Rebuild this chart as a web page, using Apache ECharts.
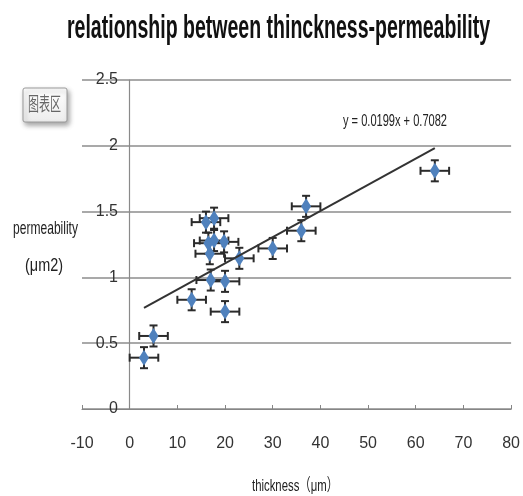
<!DOCTYPE html>
<html>
<head>
<meta charset="utf-8">
<script src="https://cdn.jsdelivr.net/npm/echarts@6/dist/echarts.min.js"></script>
<style>
html,body{margin:0;padding:0;background:#fff;}
#chart{width:523px;height:496px;}
</style>
</head>
<body>
<div id="chart"></div>
<script>
// ---- data ----
const thickness = [3, 5, 13, 20, 17, 20, 16, 17.7, 16.5, 17.7, 19.8, 16.8, 23, 30, 36, 37, 64];
const permeability = [0.39, 0.555, 0.83, 0.74, 0.98, 0.97, 1.42, 1.45, 1.26, 1.28, 1.27, 1.18, 1.145, 1.22, 1.355, 1.54, 1.81];
const xError = 3;
const yError = 0.08;
const trendSlope = 0.0199;
const trendIntercept = 0.7082;
const trendX = [3, 64];
const xRange = [-10, 80, 10];
const yRange = [0, 2.5, 0.5];
const titleText = 'relationship between thinckness-permeability';
const xName = 'thickness（μm）';
const yNameLines = ['permeability', '(μm2)'];
const equationText = 'y = 0.0199x + 0.7082';
const tipText = '图表区';

const NARROW = '"Liberation Sans Narrow", "Liberation Sans", Arial, sans-serif';
const CJK = '"Liberation Sans Narrow", "Liberation Sans", "Noto Sans CJK SC", sans-serif';

const mctx = document.createElement('canvas').getContext('2d');
function fitScale(text, weight, size, family, target) {
  mctx.font = weight + ' ' + size + 'px ' + family;
  return target / mctx.measureText(text).width;
}
function fitText(text, cx, cy, size, family, weight, color, target) {
  return {
    type: 'text', x: cx, y: cy, z: 100,
    scaleX: fitScale(text, weight, size, family, target),
    style: { text: text, x: 0, y: 0, fontSize: size, fontFamily: family, fontWeight: weight,
             fill: color, align: 'center', verticalAlign: 'middle' }
  };
}

const points = thickness.map((x, i) => [x, permeability[i]]);
const trendData = trendX.map(x => [x, trendSlope * x + trendIntercept]);

const chart = echarts.init(document.getElementById('chart'), null, { renderer: 'canvas' });
chart.setOption({
  animation: false,
  backgroundColor: '#ffffff',
  grid: { left: 82, right: 10, top: 80, bottom: 87, containLabel: false },
  xAxis: {
    type: 'value', min: xRange[0], max: xRange[1], interval: xRange[2],
    axisLine: { show: true, onZero: true, lineStyle: { color: '#868686', width: 1.2 } },
    axisTick: { show: true, inside: true, length: 4, lineStyle: { color: '#868686' } },
    axisLabel: { margin: 27, fontSize: 16, color: '#333', fontFamily: NARROW },
    splitLine: { show: false }
  },
  yAxis: {
    type: 'value', min: yRange[0], max: yRange[1], interval: yRange[2],
    axisLine: { show: true, onZero: true, lineStyle: { color: '#8a8a8a', width: 1.2 } },
    axisTick: { show: false },
    axisLabel: { margin: -36, align: 'right', fontSize: 16, color: '#333', fontFamily: NARROW },
    splitLine: { show: true, lineStyle: { color: '#8c8c8c', width: 1.5 } }
  },
  series: [
    {
      type: 'custom', z: 2,
      data: points,
      renderItem: function (params, api) {
        const x = api.value(0), y = api.value(1);
        const l = api.coord([x - xError, y]), r = api.coord([x + xError, y]);
        const t = api.coord([x, y + yError]), b = api.coord([x, y - yError]);
        const cap = 4;
        const st = { stroke: '#2b2b2b', lineWidth: 2 };
        return {
          type: 'group',
          children: [
            { type: 'line', shape: { x1: l[0], y1: l[1], x2: r[0], y2: r[1] }, style: st },
            { type: 'line', shape: { x1: l[0], y1: l[1] - cap, x2: l[0], y2: l[1] + cap }, style: st },
            { type: 'line', shape: { x1: r[0], y1: r[1] - cap, x2: r[0], y2: r[1] + cap }, style: st },
            { type: 'line', shape: { x1: t[0], y1: t[1], x2: b[0], y2: b[1] }, style: st },
            { type: 'line', shape: { x1: t[0] - cap, y1: t[1], x2: t[0] + cap, y2: t[1] }, style: st },
            { type: 'line', shape: { x1: b[0] - cap, y1: b[1], x2: b[0] + cap, y2: b[1] }, style: st }
          ]
        };
      }
    },
    {
      type: 'scatter', z: 3,
      data: points,
      symbol: 'diamond', symbolSize: [10, 16],
      itemStyle: { color: '#4F81BD', opacity: 1 }
    },
    {
      type: 'line', z: 4,
      data: trendData,
      showSymbol: false, symbol: 'none',
      lineStyle: { color: '#333333', width: 2 }
    }
  ],
  graphic: [
    fitText(titleText, 278.5, 29, 33, NARROW, 'bold', '#111', 423),
    fitText(yNameLines[0], 45.5, 229, 19, NARROW, 'normal', '#222', 65),
    fitText(yNameLines[1], 44, 266, 19, NARROW, 'normal', '#222', 38),
    fitText(xName, 295, 486, 17, CJK, 'normal', '#222', 86),
    fitText(equationText, 395, 121, 17, NARROW, 'normal', '#222', 104),
    {
      type: 'rect', z: 99,
      shape: { x: 23, y: 88, width: 44, height: 34, r: 2 },
      style: {
        fill: new echarts.graphic.LinearGradient(0, 0, 0, 1, [
          { offset: 0, color: '#ffffff' }, { offset: 1, color: '#ececec' }
        ]),
        stroke: '#9a9a9a', lineWidth: 1,
        shadowBlur: 5, shadowOffsetX: 2, shadowOffsetY: 3, shadowColor: 'rgba(0,0,0,0.35)'
      }
    },
    fitText(tipText, 44.5, 104, 19, '"Noto Sans CJK SC", sans-serif', 'normal', '#666', 33)
  ]
});
</script>
</body>
</html>
